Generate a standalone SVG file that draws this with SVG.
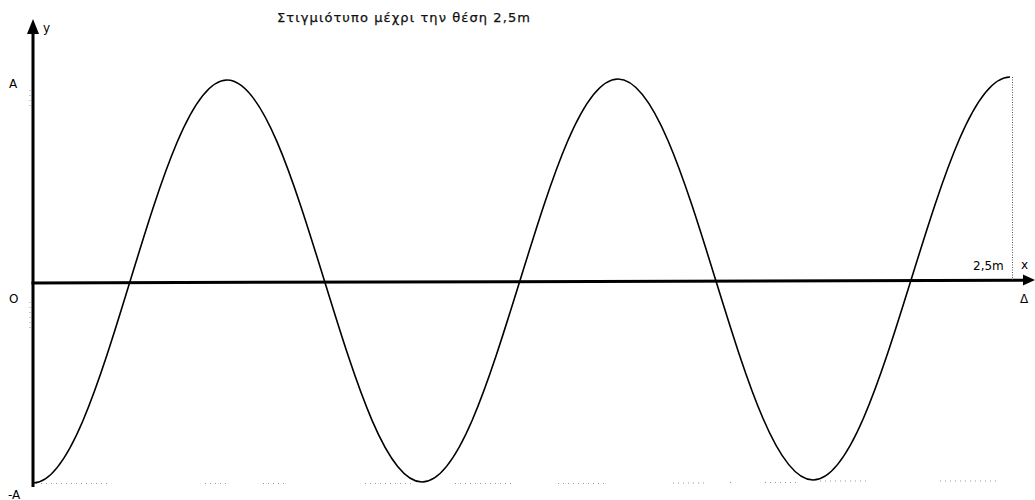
<svg xmlns="http://www.w3.org/2000/svg" width="1035" height="500" viewBox="0 0 1035 500">
<style>
.lbl{font-family:"DejaVu Sans","Liberation Sans",sans-serif;font-size:12px;fill:#000}
.ttl{font-family:"DejaVu Sans","Liberation Sans",sans-serif;font-size:13px;fill:#111;stroke:#111;stroke-width:0.25}
.axis{stroke:#000;stroke-width:3;fill:none}
.wave{stroke:#000;stroke-width:1.6;fill:none}
.dots{stroke:#999;stroke-width:1;stroke-dasharray:1 4;fill:none}
.vdots{stroke:#555;stroke-width:1;stroke-dasharray:1 1.5;fill:none}
.head{fill:#000}
</style>
<rect width="1035" height="500" fill="#fff"/>
<g id="title"><text class="ttl" x="277" y="22" textLength="253" lengthAdjust="spacing">Στιγμιότυπο μέχρι την θέση 2,5m</text></g>
<g id="connectors">
<line class="axis" x1="33" y1="487" x2="33" y2="30"/>
<path class="head" d="M33,19 L39,34 L27,34 Z"/>
<line class="axis" x1="31.5" y1="283" x2="1026" y2="280.2"/>
<path class="head" d="M1035,280 L1023,274.5 L1023,285.5 Z"/>
<line class="vdots" x1="1012.5" y1="77" x2="1012.5" y2="280"/>
<path class="dots" d="M36,483.5 H110 M205,483.5 H227 M263,483.5 H287 M365,483.5 H412 M455,483.5 H515 M558,483.5 H605 M673,483 H707 M730,482.5 H733 M765,482.5 H797 M820,481 H870 M940,481 H1000"/>
<path class="dots" d="M30,90 V110 M30,302 V330"/>
</g>
<g id="wave">
<path class="wave" d="M33,483 C68.1,483 98.4,384.7 130,281.5 C161.6,178.3 191.9,80 227,80 C262.3,80 292.7,178 324.5,281 C356.3,384 386.7,482 422,482 C457.5,482 488,383.7 520,280.5 C552,177.3 582.5,79 618,79 C653.3,79 683.7,176.8 715.5,279.5 C747.3,382.2 777.7,480 813,480 C848.6,480 879.4,381.7 911.5,278.5 C943.6,175.3 974.4,77 1010,77"/>
</g>
<g id="labels">
<text class="lbl" x="9" y="88">A</text>
<text class="lbl" x="43" y="32">y</text>
<text class="lbl" x="9" y="303">O</text>
<text class="lbl" x="8" y="499">-A</text>
<text class="lbl" x="973" y="270">2,5m</text>
<text class="lbl" x="1021" y="269">x</text>
<text class="lbl" x="1020" y="303">Δ</text>
</g>
</svg>
